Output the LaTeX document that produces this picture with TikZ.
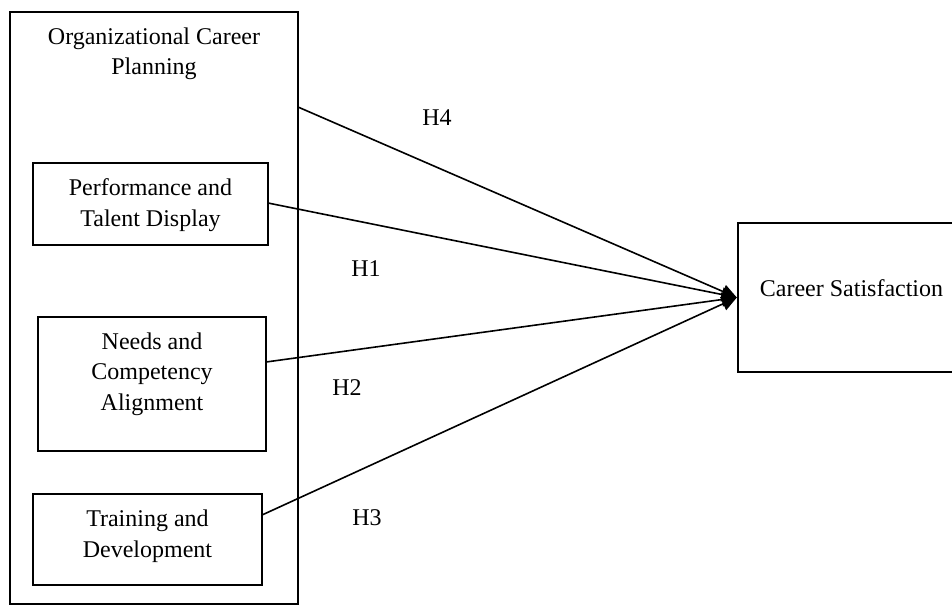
\documentclass[tikz,border=0pt]{standalone}
\usepackage{fontspec}
\setmainfont{Liberation Serif}
\usetikzlibrary{arrows.meta}
\begin{document}
\begin{tikzpicture}[x=1pt,y=-1pt,
  box/.style={draw, line width=2.4pt, rectangle, inner sep=0pt},
  txt/.style={inner sep=0pt, align=center, font=\fontsize{24}{30.5}\selectfont},
  link/.style={line width=1.6pt, -{Triangle[length=15pt,width=14pt]}}]
\useasboundingbox (0,0) rectangle (952,606);
% boxes
\node[box, minimum width=288, minimum height=592] (ocp) at (154,308) {};
\node[box, minimum width=235, minimum height=82] (perf) at (150.5,204) {};
\node[box, minimum width=228, minimum height=134] (needs) at (152,384) {};
\node[box, minimum width=229, minimum height=91] (train) at (147.5,539.5) {};
\node[box, minimum width=227, minimum height=149] (cs) at (851.5,297.5) {};
% texts
\node[txt] (ocpt) at (154,54) {Organizational Career\\Planning};
\node[txt] (perft) at (150.5,205) {Performance and\\Talent Display};
\node[txt] (needst) at (152,374) {Needs and\\Competency\\Alignment};
\node[txt] (traint) at (147.5,536) {Training and\\Development};
\node[txt] (cst) at (851.5,288) {Career Satisfaction};
% labels
\node[txt] (h4) at (437,118) {H4};
\node[txt] (h1) at (366,269) {H1};
\node[txt] (h2) at (347,388) {H2};
\node[txt] (h3) at (367,518) {H3};
% start points
\coordinate (s4) at (298,107);
\coordinate (s1) at (268,203);
\coordinate (s2) at (266,362);
\coordinate (s3) at (262,515);
% connectors
\draw[link] (s4) -- (cs.west);
\draw[link] (s1) -- (cs.west);
\draw[link] (s2) -- (cs.west);
\draw[link] (s3) -- (cs.west);
\end{tikzpicture}
\end{document}
